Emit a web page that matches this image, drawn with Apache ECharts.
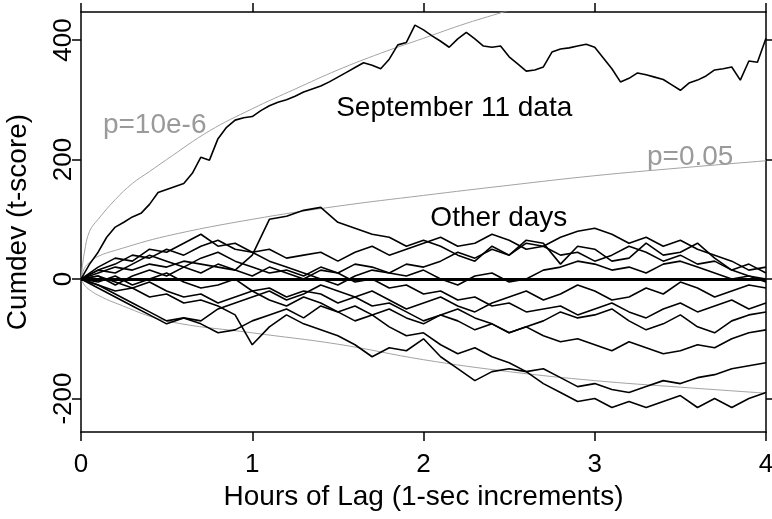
<!DOCTYPE html>
<html>
<head>
<meta charset="UTF-8">
<script src="https://cdn.jsdelivr.net/npm/echarts@6/dist/echarts.min.js"></script>
<style>
  html, body { margin: 0; padding: 0; background: #ffffff; }
  #chart { width: 772px; height: 519px; }
</style>
</head>
<body>
<div id="chart"></div>
<script type="text/javascript">
// Sample positions (hours of lag).
const hoursFine = [0, 0.05, 0.1, 0.15, 0.2, 0.25, 0.3, 0.35, 0.4, 0.45, 0.5, 0.55, 0.6, 0.65, 0.7, 0.75, 0.8, 0.85, 0.9, 0.95,
  1, 1.05, 1.1, 1.15, 1.2, 1.25, 1.3, 1.35, 1.4, 1.45, 1.5, 1.55, 1.6, 1.65, 1.7, 1.75, 1.8, 1.85, 1.9, 1.95,
  2, 2.05, 2.1, 2.15, 2.2, 2.25, 2.3, 2.35, 2.4, 2.45, 2.5, 2.55, 2.6, 2.65, 2.7, 2.75, 2.8, 2.85, 2.9, 2.95,
  3, 3.05, 3.1, 3.15, 3.2, 3.25, 3.3, 3.35, 3.4, 3.45, 3.5, 3.55, 3.6, 3.65, 3.7, 3.75, 3.8, 3.85, 3.9, 3.95, 4];
const hours = [0, 0.1, 0.2, 0.3, 0.4, 0.5, 0.6, 0.7, 0.8, 0.9, 1, 1.1, 1.2, 1.3, 1.4, 1.5, 1.6, 1.7, 1.8, 1.9,
  2, 2.1, 2.2, 2.3, 2.4, 2.5, 2.6, 2.7, 2.8, 2.9, 3, 3.1, 3.2, 3.3, 3.4, 3.5, 3.6, 3.7, 3.8, 3.9, 4];

// September 11 cumdev (sampled every 0.05 h).
const sept11 = [0, 25, 45, 70, 87, 95, 104, 110, 125, 145, 150, 155, 160, 177, 204, 199, 235, 254, 266, 270,
  272, 282, 290, 296, 300, 306, 313, 318, 323, 330, 338, 346, 354, 362, 358, 352, 368, 392, 396, 425,
  417, 407, 398, 388, 402, 413, 402, 390, 388, 390, 372, 360, 348, 350, 355, 380, 385, 387, 390, 393,
  388, 370, 352, 330, 336, 345, 342, 338, 334, 325, 316, 328, 333, 340, 350, 352, 355, 333, 365, 363, 403];

// Other days (sampled every 0.1 h).
const day1 = [0, 10, 20, 15, 25, 20, 30, 25, 20, 15, 40, 100, 105, 115, 120, 95, 85, 75, 70, 55,
  65, 55, 40, 30, 55, 40, 65, 60, 25, 55, 50, 30, 35, 60, 40, 45, 60, 35, 15, 25, 10];
const day2 = [0, 20, 35, 30, 50, 45, 60, 75, 55, 60, 45, 30, 20, 10, 0, -10, 5, 15, 10, 25,
  20, 30, 45, 35, 50, 40, 60, 55, 70, 80, 85, 75, 60, 70, 55, 65, 50, 40, 30, 15, 20];
const day3 = [0, 15, 25, 40, 35, 50, 40, 55, 65, 50, 45, 50, 35, 40, 45, 30, 45, 55, 40, 50,
  60, 70, 55, 60, 75, 65, 50, 55, 40, 45, 30, 40, 55, 45, 30, 40, 25, 30, 15, 5, 0];
const day4 = [0, -5, 5, -10, 0, 10, -5, -15, -10, 0, -20, -15, -30, -20, -25, -40, -30, -20, -35, -50,
  -40, -30, -45, -55, -40, -30, -20, -35, -25, -10, -20, -35, -30, -15, -25, -5, -15, -30, -20, -10, -15];
const day5 = [0, -15, -30, -45, -60, -75, -65, -70, -50, -40, -30, -20, -35, -25, -10, -20, -30, -45, -40, -55,
  -70, -60, -50, -65, -75, -90, -80, -70, -55, -65, -60, -50, -70, -85, -75, -60, -80, -90, -70, -60, -55];
const day6 = [0, -10, -20, -15, -30, -25, -40, -35, -45, -60, -110, -80, -60, -75, -85, -95, -110, -130, -115, -120,
  -100, -130, -150, -170, -155, -150, -155, -175, -190, -205, -200, -215, -205, -215, -205, -195, -215, -200, -215, -200, -190];
const day7 = [0, -10, -25, -40, -55, -70, -65, -75, -90, -85, -70, -60, -50, -65, -45, -55, -70, -60, -80, -95,
  -90, -110, -125, -115, -130, -140, -155, -150, -165, -180, -175, -185, -190, -180, -170, -175, -165, -160, -150, -145, -140];
const day8 = [0, 5, -5, -15, -5, -20, -30, -25, -40, -30, -20, -35, -45, -30, -40, -55, -45, -60, -50, -65,
  -75, -60, -70, -85, -75, -90, -80, -95, -105, -100, -110, -120, -105, -115, -125, -120, -110, -115, -100, -90, -85];
const day9 = [0, 15, 10, 25, 40, 30, 20, 35, 45, 30, 20, 10, 15, 5, 20, 10, -5, 0, -15, -10,
  -25, -20, -35, -30, -45, -40, -55, -50, -45, -60, -50, -40, -55, -65, -50, -40, -55, -45, -35, -50, -40];
const day10 = [0, 5, -10, 5, 15, 5, 20, 10, 25, 15, 5, 20, 10, 0, 15, 10, 25, 20, 10, 5,
  15, 0, -10, 5, 10, -5, 0, 15, 20, 30, 25, 15, 20, 10, 25, 30, 20, 10, 0, 5, -5];
const otherDays = [day1, day2, day3, day4, day5, day6, day7, day8, day9, day10];

// Significance envelopes.
const envHoursHigh = [0, 0.02, 0.05, 0.1, 0.2, 0.3, 0.4, 0.5, 0.75, 1, 1.25, 1.5, 1.75, 2, 2.25, 2.5, 2.6];
const envHigh = [0, 45, 80, 100, 133, 160, 180, 200, 248, 285, 318, 350, 378, 403, 428, 450, 460];
const envHours = [0, 0.02, 0.05, 0.1, 0.2, 0.5, 1, 1.5, 2, 2.5, 3, 3.5, 4];
const envUpper = [0, 18, 28, 38, 48, 72, 100, 122, 140, 157, 173, 186, 198];
const envLower = [0, -10, -18, -27, -40, -70, -90, -109, -135, -155, -170, -181, -191];

// Tick labels.
const xTicks = [0, 1, 2, 3, 4];
const yTicks = [-200, 0, 200, 400];

// Text annotations: [hours, cumdev, text, colour].
const notes = [
  [0.128, 258, 'p=10e-6', '#9a9a9a'],
  [1.49, 286, 'September 11 data', '#000000'],
  [3.305, 203, 'p=0.05', '#9a9a9a'],
  [2.04, 102, 'Other days', '#000000']
];

const FONT = '"Liberation Sans", Arial, Helvetica, sans-serif';
const pairs = (xs, ys) => xs.map((x, i) => [x, ys[i]]);

const chart = echarts.init(document.getElementById('chart'));

const gray = { color: '#a3a3a3', width: 1 };
const walk = { color: '#000000', width: 1.6 };

const series = [
  { name: 'p=10e-6', type: 'line', data: pairs(envHoursHigh, envHigh), smooth: 0.4, lineStyle: gray },
  { name: 'p=0.05 upper', type: 'line', data: pairs(envHours, envUpper), smooth: 0.4, lineStyle: gray },
  { name: 'p=0.05 lower', type: 'line', data: pairs(envHours, envLower), smooth: 0.4, lineStyle: gray }
];
otherDays.forEach((d, i) => {
  series.push({ name: 'day' + (i + 1), type: 'line', data: pairs(hours, d), lineStyle: walk });
});
series.push({
  name: 'September 11', type: 'line', data: pairs(hoursFine, sept11), lineStyle: walk,
  markLine: {
    silent: true, symbol: 'none', label: { show: false },
    lineStyle: { color: '#000000', width: 3, type: 'solid' },
    data: [{ yAxis: 0 }]
  }
});
series.forEach(s => { s.symbol = 'none'; s.showSymbol = false; s.silent = true; s.xAxisIndex = 0; s.yAxisIndex = 0; });

const axisLine = { show: true, onZero: false, lineStyle: { color: '#000000', width: 1.5 } };
const tick = { show: true, inside: false, length: 9, lineStyle: { color: '#000000', width: 1.5 } };

const option = {
  animation: false,
  backgroundColor: '#ffffff',
  grid: { left: 81, right: 6, top: 12, bottom: 87, containLabel: false, outerBoundsMode: 'none' },
  xAxis: [
    {
      type: 'value', position: 'bottom', min: 0, max: 4, interval: 1,
      name: 'Hours of Lag (1-sec increments)', nameLocation: 'middle', nameGap: 46,
      nameTextStyle: { color: '#000000', fontSize: 28, fontFamily: FONT },
      axisLine: axisLine, axisTick: tick,
      axisLabel: { color: '#000000', fontSize: 26, fontFamily: FONT, margin: 20,
        customValues: xTicks, showMinLabel: true, showMaxLabel: true },
      splitLine: { show: false }
    },
    {
      type: 'value', position: 'top', min: 0, max: 4, interval: 1,
      axisLine: axisLine, axisTick: tick, axisLabel: { show: false }, splitLine: { show: false }
    }
  ],
  yAxis: [
    {
      type: 'value', position: 'left', min: -256, max: 447,
      name: 'Cumdev (t-score)', nameLocation: 'middle', nameGap: 49,
      nameTextStyle: { color: '#000000', fontSize: 28, fontFamily: FONT },
      axisLine: axisLine,
      axisTick: Object.assign({}, tick, { customValues: yTicks }),
      axisLabel: { color: '#000000', fontSize: 26, fontFamily: FONT, rotate: 90, margin: 4, customValues: yTicks },
      splitLine: { show: false }
    },
    {
      type: 'value', position: 'right', min: -256, max: 447,
      axisLine: axisLine,
      axisTick: Object.assign({}, tick, { customValues: yTicks }),
      axisLabel: { show: false, customValues: yTicks },
      splitLine: { show: false }
    }
  ],
  series: series
};

chart.setOption(option);

// Place the annotations through the axes' own scales.
const graphic = notes.map(n => {
  const p = chart.convertToPixel({ xAxisIndex: 0, yAxisIndex: 0 }, [n[0], n[1]]);
  return {
    type: 'text', x: p[0], y: p[1], silent: true,
    style: { text: n[2], fill: n[3], font: '28px ' + FONT, textAlign: 'left', textVerticalAlign: 'middle' }
  };
});
chart.setOption({ graphic: graphic });
</script>
</body>
</html>
